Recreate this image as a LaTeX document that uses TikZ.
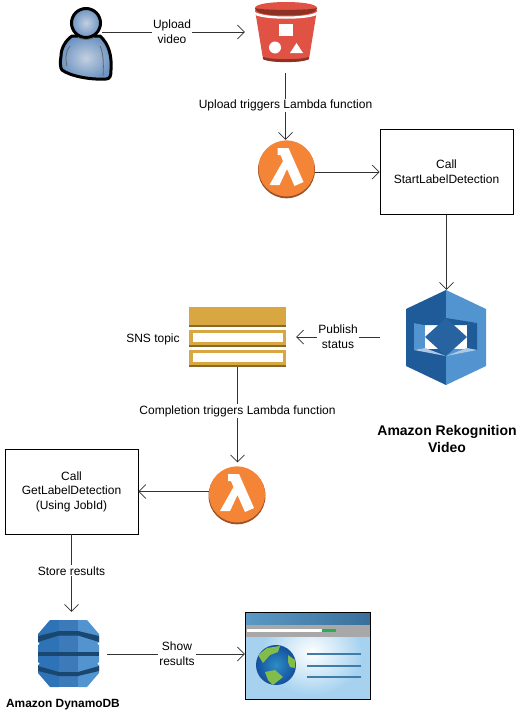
\documentclass[tikz,border=0pt]{standalone}
\usepackage{fontspec}
\setmainfont{Liberation Sans}
\usetikzlibrary{arrows.meta}
\definecolor{linecol}{HTML}{333333}
\definecolor{awsorange}{HTML}{F58536}
\definecolor{awsorangedk}{HTML}{9D5025}
\definecolor{s3red}{HTML}{E05243}
\definecolor{s3dark}{HTML}{8C3123}
\definecolor{snsgold}{HTML}{D9A741}
\definecolor{snsdark}{HTML}{876929}
\definecolor{rekdark}{HTML}{205B99}
\definecolor{reklight}{HTML}{5294CF}
\definecolor{ddbmid}{HTML}{3C7ABA}
\definecolor{ddbleft}{HTML}{2E73B8}
\definecolor{ddbband}{HTML}{1A476F}
\definecolor{userin}{HTML}{C4CFE0}
\definecolor{userout}{HTML}{6C94C2}
\definecolor{webbody}{HTML}{A6D2F0}
\definecolor{webleft}{HTML}{5A9AC4}
\definecolor{webright}{HTML}{3A6F9C}
\definecolor{webgray}{HTML}{A8A8A8}
\definecolor{webgreen}{HTML}{22B14C}
\definecolor{weblines}{HTML}{3F7CA8}
\definecolor{globein}{HTML}{2C8EC4}
\definecolor{globeout}{HTML}{144F9E}
\definecolor{land}{HTML}{82BC4A}
\tikzset{
  conn/.style={draw=linecol,line width=.8pt,-{Straight Barb[length=7pt,width=14pt,line width=.7pt]}},
  lbl/.style={fill=white,inner sep=1pt,align=center,font=\fontsize{12}{14.6}\selectfont,text=black},
  plain/.style={inner sep=0pt,align=center,font=\fontsize{12}{14.6}\selectfont,text=black},
  title/.style={inner sep=0pt,align=center,font=\fontsize{14}{17}\selectfont\bfseries,text=black},
  iconbox/.style n args={2}{inner sep=0pt,minimum width=#1,minimum height=#2},
  procbox/.style={draw=black,line width=.8pt,inner sep=0pt,align=center,font=\fontsize{12}{14.6}\selectfont,minimum width=133pt,minimum height=85pt},
  lambdaglyph/.style={fill=white,draw=none}
}
\newcommand{\lambdaicon}[2]{%
  \fill[awsorangedk] (#1,#2+.8) circle[radius=28.5pt];
  \fill[awsorange] (#1,#2-.6) circle[radius=28pt];
  \begin{scope}[shift={(#1,#2)}]
    \fill[lambdaglyph] (-9,-21) -- (2,-21) -- (17,13) -- (8,17) -- (0.5,0) -- (-7,16) -- (-17,16) -- (-3.5,-8) -- (-6,-14) -- (-9,-14) -- cycle;
  \end{scope}}
\begin{document}
\begin{tikzpicture}[x=1pt,y=-1pt]
\useasboundingbox[fill=white] (0,0) rectangle (528,718);

% user
\shade[inner color=userin,outer color=userout,draw=black,line width=3pt,line join=round]
  (72,36) .. controls (66,40) and (61,48) .. (61,56) .. controls (60,62) and (60,68) .. (62,70)
  .. controls (70,76) and (90,80) .. (106,79) .. controls (110,79) and (111,76) .. (111,70)
  .. controls (112,56) and (109,44) .. (100,36) -- cycle;
\draw[gray!80!black,line width=.8pt] (67,66) .. controls (65,58) and (66,50) .. (70,46);
\draw[gray!80!black,line width=.8pt] (103,76) .. controls (104,62) and (103,52) .. (100,46);
\shade[inner color=userin,outer color=userout,draw=black,line width=3pt] (86,23) circle[radius=14.5pt];
\draw[gray!80!black,line width=.8pt] (78,37.5) .. controls (82,40) and (90,40) .. (94,37.5);
\node[iconbox={40pt}{40pt}] (user) at (82,32) {};

% bucket
\fill[s3red] (255,10) -- (317,10) -- (309,59) .. controls (300,63) and (272,63) .. (263,59) -- cycle;
\fill[s3dark] (263,57) .. controls (272,60) and (300,60) .. (309,57) -- (308.6,59.5) .. controls (300,63) and (272,63) .. (263.4,59.5) -- cycle;
\fill[white] (255,12) .. controls (265,18) and (307,18) .. (317,12) -- (316.6,15) .. controls (306,20) and (266,20) .. (255.4,15) -- cycle;
\fill[s3red] (255,8) .. controls (255,0) and (317,0) .. (317,8) .. controls (317,11) and (255,11) .. (255,8) -- cycle;
\fill[s3dark] (255,8) .. controls (262,10.5) and (310,10.5) .. (317,8) .. controls (317,13) and (306,15.5) .. (286,15.5) .. controls (266,15.5) and (255,13) .. (255,8) -- cycle;
\fill[white] (279,24) rectangle (293,36);
\fill[white] (275,47.5) circle[radius=6pt];
\fill[white] (296.5,43) -- (303,53) -- (290,53) -- cycle;
\node[iconbox={81pt}{82pt}] (bucket) at (285.5,32) {};

% lambda 1
\lambdaicon{286.5}{169}
\node[iconbox={59pt}{64pt}] (lam1) at (285.5,172) {};

% start box
\node[procbox] (start) at (446.5,172) {Call\\StartLabelDetection};

% rekognition
\fill[rekdark] (446,290) -- (406,309) -- (406,366) -- (446,385) -- cycle;
\fill[reklight] (446,290) -- (486,309) -- (486,366) -- (446,385) -- cycle;
\fill[reklight] (414,323) -- (425,325) -- (425,348) -- (414,350) -- cycle;
\fill[rekdark] (477,323) -- (466,325) -- (466,348) -- (477,350) -- cycle;
\fill[white] (425,325) -- (467,325) -- (467,349) -- (425,349) -- cycle;
\fill[rekdark] (414,323) -- (446,318) -- (477,323) -- (466,325) -- (425,325) -- cycle;
\fill[reklight!50!white] (414,350) -- (446,356) -- (425,348) -- cycle;
\fill[reklight!50!white] (477,350) -- (446,356) -- (467,348) -- cycle;
\fill[rekdark!85!reklight] (446,318) -- (467,337) -- (446,356) -- (425,337) -- cycle;
\node[iconbox={133pt}{94pt}] (rek) at (446.5,337) {};
\node[title] (rektitle) at (447,438.5) {Amazon Rekognition\\Video};

% SNS
\fill[snsgold] (189,307) rectangle (286,327);
\fill[snsdark] (189,324.5) rectangle (286,327);
\fill[snsgold] (189,330) rectangle (286,347);
\fill[snsdark] (189,344.5) rectangle (286,347);
\fill[white] (192.5,333) rectangle (283,342);
\fill[snsgold] (189,350) rectangle (286,367);
\fill[snsdark] (189,364.5) rectangle (286,367);
\fill[white] (192.5,353) rectangle (283,362);
\node[iconbox={117pt}{60pt}] (sns) at (237.5,337) {};
\node[plain] (snslabel) at (153,339) {SNS topic};

% lambda 2
\lambdaicon{237}{495}
\node[iconbox={57pt}{58pt}] (lam2) at (237.5,491.5) {};

% get box
\node[procbox] (get) at (71.5,491.5) {Call\\GetLabelDetection\\(Using JobId)};

% DynamoDB
\fill[ddbleft] (50,620) -- (59,620) -- (59,687) -- (50,687) -- (38,673) -- (38,634) -- cycle;
\fill[ddbmid] (59,620) rectangle (78,687);
\fill[reklight] (78,620) -- (87,620) -- (99,634) -- (99,673) -- (87,687) -- (78,687) -- cycle;
\fill[ddbband] (38,636) -- (59,631) -- (78,631) -- (99,636) -- (99,642) -- (78,635.5) -- (59,635.5) -- (38,642) -- cycle;
\fill[ddbband] (38,652) rectangle (99,656);
\fill[ddbband] (38,666) -- (59,672) -- (78,672) -- (99,666) -- (99,671) -- (78,676) -- (59,676) -- (38,671) -- cycle;
\fill[white] (38,642) -- (39.5,643.5) -- (38,645) -- cycle;
\fill[white] (99,642) -- (97.5,643.5) -- (99,645) -- cycle;
\fill[white] (38,662) -- (39.5,663.5) -- (38,665) -- cycle;
\fill[white] (99,662) -- (97.5,663.5) -- (99,665) -- cycle;
\node[iconbox={71pt}{84pt}] (ddb) at (71.5,654) {};
\node[title,font=\fontsize{11.9}{13}\selectfont\bfseries] (ddbtitle) at (63,705) {Amazon DynamoDB};

% web page
\begin{scope}
  \clip (245,612) rectangle (370,699);
  \fill[webbody] (245,637) rectangle (370,699);
  \shade[inner color=white,outer color=webbody] (262,610) rectangle (362,695);
  \fill[left color=webleft,right color=webright] (245,612) rectangle (370,625);
  \fill[webgray] (245,625) rectangle (370,637);
  \fill[white] (247,629) rectangle (322,632);
  \fill[webgreen] (322,629) rectangle (336,632);
\end{scope}
\draw[black,line width=.8pt] (245,699) -- (245,612) -- (370,612) -- (370,699) -- cycle;
\begin{scope}
  \clip (276,665) circle[radius=20pt];
  \shade[inner color=globein,outer color=globeout] (276,665) circle[radius=20pt];
  \fill[land] (258,655) -- (267,648) -- (280,646) -- (278,652) -- (270,655) -- (263,663) -- cycle;
  \fill[land] (288,655) -- (295,660) -- (295,668) -- (290,667) -- (288,662) -- cycle;
  \fill[land] (265,672) -- (275,670) -- (283,677) -- (273,685) -- (268,680) -- cycle;
\end{scope}
\draw[weblines,line width=1.2pt] (307,654) -- (361,654) (307,666) -- (361,666) (307,677) -- (361,677);
\node[iconbox={125pt}{87pt}] (web) at (307.5,654) {};

% connectors
\draw[conn] (user.east) -- node[lbl,pos=.49] {Upload\\video} (bucket.west);
\draw[conn] (bucket.south) -- node[lbl,pos=.48] {Upload triggers Lambda function} (lam1.north);
\draw[conn] (lam1.east) -- (start.west);
\draw[conn] (start.south) -- (rek.north);
\draw[conn] (rek.west) -- node[lbl,pos=.5] {Publish\\status} (sns.east);
\draw[conn] (sns.south) -- node[lbl,pos=.46] {Completion triggers Lambda function} (lam2.north);
\draw[conn] (lam2.west) -- (get.east);
\draw[conn] (get.south) -- node[lbl,pos=.47] {Store results} (ddb.north);
\draw[conn] (ddb.east) -- node[lbl,pos=.507] {Show\\results} (web.west);
\end{tikzpicture}
\end{document}
